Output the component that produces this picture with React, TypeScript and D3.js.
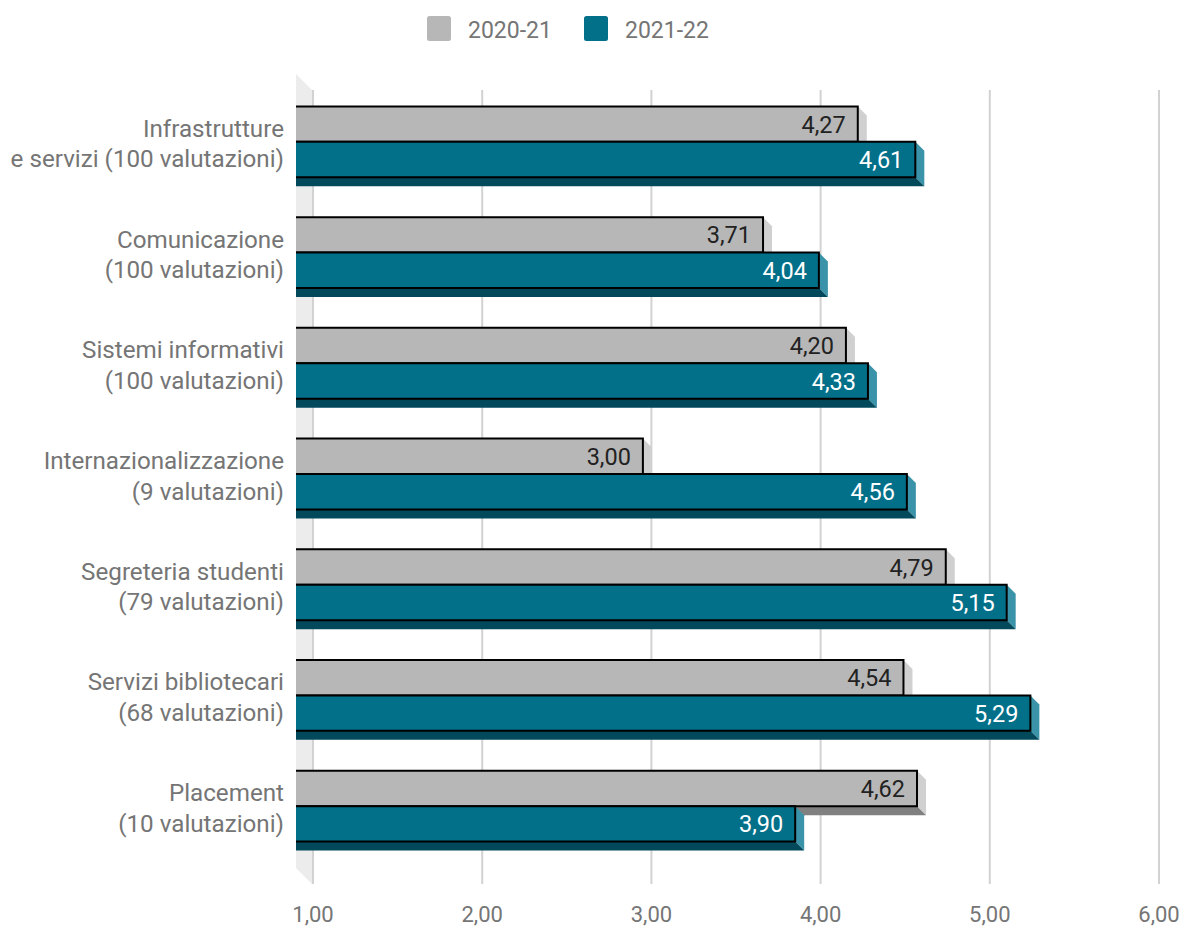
import React from "react";
import * as d3 from "d3";

const categories: string[][] = [
  ["Infrastrutture", "e servizi (100 valutazioni)"],
  ["Comunicazione", "(100 valutazioni)"],
  ["Sistemi informativi", "(100 valutazioni)"],
  ["Internazionalizzazione", "(9 valutazioni)"],
  ["Segreteria studenti", "(79 valutazioni)"],
  ["Servizi bibliotecari", "(68 valutazioni)"],
  ["Placement", "(10 valutazioni)"],
];
const seriesNames = ["2020-21", "2021-22"];
const values2020_21 = [4.27, 3.71, 4.2, 3.0, 4.79, 4.54, 4.62];
const values2021_22 = [4.61, 4.04, 4.33, 4.56, 5.15, 5.29, 3.9];
const tickValues = [1, 2, 3, 4, 5, 6];

const W = 1186;
const H = 927;
const FONT = "Roboto, 'Noto Sans', sans-serif";
const DEPTH = 9;
const WALL_DEPTH = 16;
const WALL_X = 296;

const styles = [
  { front: "#b7b7b7", side: "#d0d0d0", bottom: "#808080", text: "#222222" },
  { front: "#03708a", side: "#3a93a8", bottom: "#02495b", text: "#ffffff" },
];

const locale = d3.formatLocale({ decimal: ",", thousands: ".", grouping: [3], currency: ["€", ""] });
const fmt = locale.format(".2f");

export default function App() {
  const x = d3.scaleLinear().domain([1, 6]).range([304.5, 304.5 + 5 * 169.2]);
  const gx = (v: number) => x(v) + 8.5;
  const keys = categories.map((_, i) => String(i));
  const y = d3.scaleBand<string>().domain(keys).range([86.5, 861.5]).paddingInner(0.36).paddingOuter(0.18);
  const ys = d3.scaleBand<string>().domain(seriesNames).range([0, y.bandwidth()]);
  const series = [values2020_21, values2021_22];

  const wallTop = 74;
  const wallBottom = 868;

  return (
    <svg width={W} height={H} style={{ position: "absolute", left: 0, top: 0, background: "#fff" }} fontFamily={FONT}>
      {/* left wall */}
      <polygon
        points={`${WALL_X},${wallTop} ${WALL_X + WALL_DEPTH},${wallTop + WALL_DEPTH} ${WALL_X + WALL_DEPTH},${wallBottom + WALL_DEPTH} ${WALL_X},${wallBottom}`}
        fill="#ececec"
      />
      {/* gridlines */}
      {tickValues.map((t) => (
        <line key={t} x1={gx(t)} x2={gx(t)} y1={wallTop + WALL_DEPTH} y2={wallBottom + WALL_DEPTH} stroke="#d2d2d2" strokeWidth={2} />
      ))}
      {/* tick labels */}
      {tickValues.map((t) => (
        <text key={"t" + t} x={gx(t)} y={922} textAnchor="middle" fontSize={22} fill="#757575">
          {fmt(t)}
        </text>
      ))}
      {/* bars */}
      {keys.map((k, i) => {
        const gy = y(k)!;
        return (
          <g key={k}>
            {series.map((vals, si) => {
              const st = styles[si];
              const y0 = gy + ys(seriesNames[si])!;
              const y1 = y0 + ys.bandwidth();
              const xr = x(vals[i]);
              const x0 = WALL_X;
              return (
                <g key={si}>
                  <polygon points={`${xr},${y0} ${xr + DEPTH},${y0 + DEPTH} ${xr + DEPTH},${y1 + DEPTH} ${xr},${y1}`} fill={st.side} />
                  <polygon points={`${x0},${y1} ${xr},${y1} ${xr + DEPTH},${y1 + DEPTH} ${x0},${y1 + DEPTH}`} fill={st.bottom} />
                  <rect x={x0} y={y0} width={xr - x0} height={y1 - y0} fill={st.front} />
                  <path d={`M${x0},${y0}H${xr}V${y1}H${x0}`} fill="none" stroke="#000" strokeWidth={2} />
                  <text x={xr - 12} y={(y0 + y1) / 2 + 8.5} textAnchor="end" fontSize={23.5} fill={st.text}>
                    {fmt(vals[i])}
                  </text>
                </g>
              );
            })}
          </g>
        );
      })}
      {/* category labels */}
      {keys.map((k, i) => {
        const c = y(k)! + y.bandwidth() / 2;
        return (
          <text key={"c" + k} textAnchor="end" fontSize={24.2} fill="#757575">
            <tspan x={284} y={c - 5}>{categories[i][0]}</tspan>
            <tspan x={284} y={c + 25.5}>{categories[i][1]}</tspan>
          </text>
        );
      })}
      {/* legend */}
      {seriesNames.map((s, si) => {
        const lx = [427, 584][si];
        return (
          <g key={s}>
            <rect x={lx} y={16} width={24} height={25} rx={2.5} fill={styles[si].front} />
            <text x={lx + 41} y={37.5} fontSize={23} fill="#757575">
              {s}
            </text>
          </g>
        );
      })}
    </svg>
  );
}
